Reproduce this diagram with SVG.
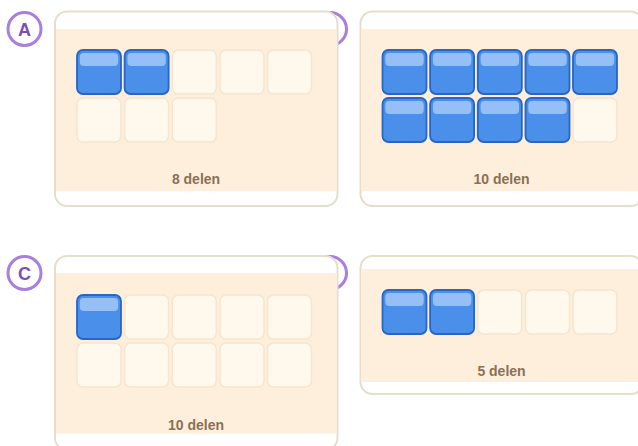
<svg xmlns="http://www.w3.org/2000/svg" xmlns:xlink="http://www.w3.org/1999/xlink" width="638" height="446" viewBox="0 0 638 446">
<style>
.card{fill:#ffffff;stroke:#e7ddcd;stroke-width:2}
.peach{fill:#fdefdc}
.empty{fill:#fff8ec;stroke:#f6e5cf;stroke-width:1.5}
.blue{fill:#4a90ea;stroke:#2566c6;stroke-width:1.8}
.hl{fill:#96bff6}
.badge{fill:#ffffff;stroke:#a87ede;stroke-width:3}
.letter{font-family:"Liberation Sans",Arial,sans-serif;font-weight:bold;font-size:18px;fill:#7a4cc0;text-anchor:middle}
.lbl{font-family:"Liberation Sans",Arial,sans-serif;font-weight:bold;font-size:14px;fill:#8a7055;text-anchor:middle}
</style>
<defs>
<g id="bc"><rect class="blue" x="0" y="0" width="44" height="44" rx="6"/><rect class="hl" x="2.8" y="3" width="38.4" height="13" rx="4"/></g>
<rect id="ec" class="empty" x="0" y="0" width="44" height="44" rx="6"/>
</defs>
<g id="label-B"><circle class="badge" cx="330" cy="29" r="16.5"/></g>
<g id="label-D"><circle class="badge" cx="330" cy="273" r="16.5"/></g>
<g id="label-A"><circle class="badge" cx="24.5" cy="29" r="16.5"/><text class="letter" x="24.5" y="35.5">A</text></g>
<g id="label-C"><circle class="badge" cx="24.5" cy="273" r="16.5"/><text class="letter" x="24.5" y="279.5">C</text></g>
<g id="card-A">
<rect class="card" x="55" y="11.5" width="282.5" height="194.5" rx="12"/>
<rect class="peach" x="56" y="29" width="280.5" height="162"/>
<use xlink:href="#bc" x="77" y="50"/><use xlink:href="#bc" x="124.6" y="50"/><use xlink:href="#ec" x="172.3" y="50"/><use xlink:href="#ec" x="220" y="50"/><use xlink:href="#ec" x="267.5" y="50"/>
<use xlink:href="#ec" x="77" y="98"/><use xlink:href="#ec" x="124.6" y="98"/><use xlink:href="#ec" x="172.3" y="98"/>
<text class="lbl" x="196" y="184">8 delen</text>
</g>
<g id="card-B">
<rect class="card" x="360.5" y="11.5" width="282.5" height="194.5" rx="12"/>
<rect class="peach" x="361.5" y="29" width="280.5" height="162"/>
<use xlink:href="#bc" x="382.5" y="50"/><use xlink:href="#bc" x="430.1" y="50"/><use xlink:href="#bc" x="477.8" y="50"/><use xlink:href="#bc" x="525.5" y="50"/><use xlink:href="#bc" x="573" y="50"/>
<use xlink:href="#bc" x="382.5" y="98"/><use xlink:href="#bc" x="430.1" y="98"/><use xlink:href="#bc" x="477.8" y="98"/><use xlink:href="#bc" x="525.5" y="98"/><use xlink:href="#ec" x="573" y="98"/>
<text class="lbl" x="501.5" y="184">10 delen</text>
</g>
<g id="card-C">
<rect class="card" x="55" y="256" width="282.5" height="194" rx="12"/>
<rect class="peach" x="56" y="273" width="280.5" height="160.5"/>
<use xlink:href="#bc" x="77" y="295"/><use xlink:href="#ec" x="124.6" y="295"/><use xlink:href="#ec" x="172.3" y="295"/><use xlink:href="#ec" x="220" y="295"/><use xlink:href="#ec" x="267.5" y="295"/>
<use xlink:href="#ec" x="77" y="343"/><use xlink:href="#ec" x="124.6" y="343"/><use xlink:href="#ec" x="172.3" y="343"/><use xlink:href="#ec" x="220" y="343"/><use xlink:href="#ec" x="267.5" y="343"/>
<text class="lbl" x="196" y="429.5">10 delen</text>
</g>
<g id="card-D">
<rect class="card" x="360.5" y="256" width="282.5" height="138" rx="12"/>
<rect class="peach" x="361.5" y="269" width="280.5" height="113"/>
<use xlink:href="#bc" x="382.5" y="290"/><use xlink:href="#bc" x="430.1" y="290"/><use xlink:href="#ec" x="477.8" y="290"/><use xlink:href="#ec" x="525.5" y="290"/><use xlink:href="#ec" x="573" y="290"/>
<text class="lbl" x="501.5" y="376">5 delen</text>
</g>
</svg>
